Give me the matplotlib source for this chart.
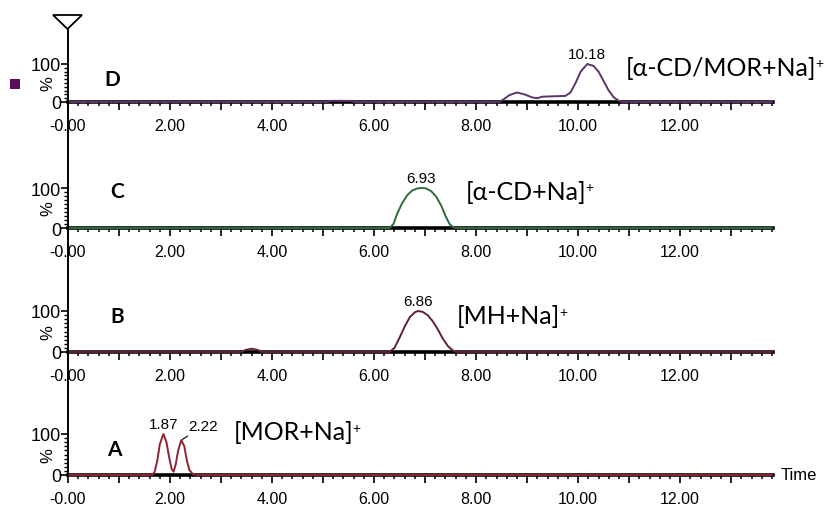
import matplotlib
matplotlib.use("Agg")
import matplotlib.pyplot as plt
from matplotlib.ticker import MultipleLocator, FuncFormatter
from matplotlib.lines import Line2D
from matplotlib.patches import Polygon, Rectangle
from matplotlib.transforms import offset_copy

# ---------------- data (time in min, relative intensity %) ----------------
time_A = [0.0, 1.65, 1.70, 1.75, 1.80, 1.87, 1.93, 1.98, 2.03, 2.07, 2.11, 2.16, 2.22, 2.28, 2.33, 2.38, 2.45, 2.55, 13.8]
int_A  = [0,   0,    8,    35,   75,   100,  80,   45,   15,   8,    25,   60,   85,   70,   35,   12,   2,    0,    0]

time_B = [0.0, 3.40, 3.48, 3.60, 3.72, 3.80, 6.30, 6.40, 6.50, 6.60, 6.70, 6.80, 6.86, 6.95, 7.05, 7.15, 7.25, 7.35, 7.45, 7.55, 7.62, 13.8]
int_B  = [0,   0,    5,    8,    5,    0,    0,    10,   35,   62,   85,   97,   100,  98,   90,   75,   55,   32,   14,   3,    0,    0]

time_C = [0.0, 6.30, 6.38, 6.45, 6.55, 6.65, 6.75, 6.85, 6.93, 7.02, 7.12, 7.22, 7.32, 7.40, 7.48, 7.55, 7.60, 13.8]
int_C  = [0,   0,    10,   35,   62,   82,   94,   99,   100,  99,   92,   78,   55,   30,   10,   2,    0,    0]

time_D = [0.0, 5.10, 5.12, 5.58, 5.60, 8.45, 8.55, 8.65, 8.80, 8.95, 9.10, 9.20, 9.30, 9.50, 9.75, 9.85, 9.95, 10.05, 10.18, 10.30, 10.40, 10.50, 10.60, 10.70, 10.80, 10.87, 13.8]
int_D  = [0,   0,    3,    3,    0,    0,    8,    18,   25,   20,   12,   10,   14,   15,   16,   25,   50,   80,    100,   95,    80,    55,    30,    12,    3,     0,     0]

panel_keys = ["D", "C", "B", "A"]
ion_labels = {"D": "[α-CD/MOR+Na]", "C": "[α-CD+Na]", "B": "[MH+Na]", "A": "[MOR+Na]"}
peak_times = {"D": [10.18], "C": [6.93], "B": [6.86], "A": [1.87, 2.22]}
y_tick_values = [0, 100]
y_tick_labels = ["0", "100"]

series = {"A": (time_A, int_A), "B": (time_B, int_B), "C": (time_C, int_C), "D": (time_D, int_D)}
colors = {"A": "#8c2434", "B": "#5e2233", "C": "#2e6a3c", "D": "#5b3468"}

# ---------------- layout ----------------
W, H = 824, 506
fig = plt.figure(figsize=(W / 100, H / 100), dpi=100)
X0, X1 = 68, 773
geom = {"D": (103, 65), "C": (229, 189), "B": (353, 312), "A": (476, 435)}
letter_px = {"D": (112, 80), "C": (117, 192), "B": (117, 317), "A": (114, 450)}
ion_px = {"D": (626, 68), "C": (466, 192), "B": (457, 317), "A": (234, 433)}

def fmt(v, pos):
    iv = int(round(v))
    if abs(v - iv) > 1e-6 or iv % 2:
        return ""
    return "-0.00" if iv == 0 else f"{iv:.2f}"

for key in panel_keys:
    base, top = geom[key]
    ax = fig.add_axes([X0 / W, 1 - base / H, (X1 - X0) / W, (base - top) / H])
    ax.set_xlim(0, 13.82)
    ax.set_ylim(0, 100)
    for s in ["top", "right", "left"]:
        ax.spines[s].set_visible(False)
    ax.spines["bottom"].set_linewidth(2.6)
    ax.patch.set_visible(False)
    t, y = series[key]
    ax.plot(t, y, color=colors[key], lw=1.4, clip_on=False, zorder=5, solid_joinstyle="round")

    ax.xaxis.set_major_locator(MultipleLocator(1))
    ax.xaxis.set_minor_locator(MultipleLocator(0.2))
    ax.xaxis.set_major_formatter(FuncFormatter(fmt))
    ax.tick_params(axis="x", which="major", length=5.5, width=1.2, direction="out", pad=6, labelsize=11.5)
    ax.tick_params(axis="x", which="minor", length=3.2, width=1.1, direction="out")
    for lab in ax.get_xticklabels():
        lab.set_family("Liberation Sans")

    ax.yaxis.set_minor_locator(MultipleLocator(10))
    ax.set_yticks(y_tick_values)
    ax.set_yticklabels(y_tick_labels, family="Liberation Sans", fontsize=13)
    ax.tick_params(axis="y", which="major", length=5, width=1.2, direction="out", pad=0)
    ax.tick_params(axis="y", which="minor", length=3, width=1.0, direction="out")
    ax.text(0, 0.5, "%", rotation=90, ha="center", va="center", fontsize=12,
            family="Liberation Sans",
            transform=offset_copy(ax.transAxes, fig=fig, x=-20 * 72 / 100, y=0, units="points"))

    for pt in peak_times[key]:
        idx = t.index(pt)
        if key == "A" and pt == 2.22:
            ax.annotate(f"{pt:.2f}", xy=(pt, y[idx]), xytext=(5, 5), textcoords="offset points",
                        ha="left", va="bottom", fontsize=11, family="Liberation Sans",
                        arrowprops=dict(arrowstyle="-", lw=0.8, color="black", shrinkA=0, shrinkB=1))
        else:
            ax.annotate(f"{pt:.2f}", xy=(pt, y[idx]), xytext=(0, 2), textcoords="offset points",
                        ha="center", va="bottom", fontsize=11, family="Liberation Sans")

    lx, ly = letter_px[key]
    fig.text(lx / W, 1 - ly / H, key, ha="center", va="center", fontsize=15,
             family="Lato", weight="bold")
    ix, iy = ion_px[key]
    tt = fig.text(ix / W, 1 - iy / H, ion_labels[key], ha="left", va="center", fontsize=18, family="Lato")
    fig.add_artist(plt.Annotation("+", xy=(1, 0.92), xycoords=tt, xytext=(-1, 0), textcoords="offset points",
                                  ha="left", va="top", fontsize=10, family="Lato", annotation_clip=False))

fig.add_artist(Line2D([X0 / W, X0 / W], [1 - 30 / H, 1 - geom["A"][0] / H], color="black", lw=1.4))
fig.add_artist(Polygon([[53 / W, 1 - 16 / H], [82 / W, 1 - 16 / H], [67.5 / W, 1 - 30 / H]],
                       closed=True, fill=False, edgecolor="black", lw=1.3))
fig.add_artist(Rectangle((10 / W, 1 - 90 / H), 10 / W, 10 / H, facecolor="#5a0f5c", edgecolor="none"))

fig.text(781 / W, 1 - 476 / H, "Time", ha="left", va="center", fontsize=12, family="Liberation Sans")

fig.savefig("out.png", dpi=100)
